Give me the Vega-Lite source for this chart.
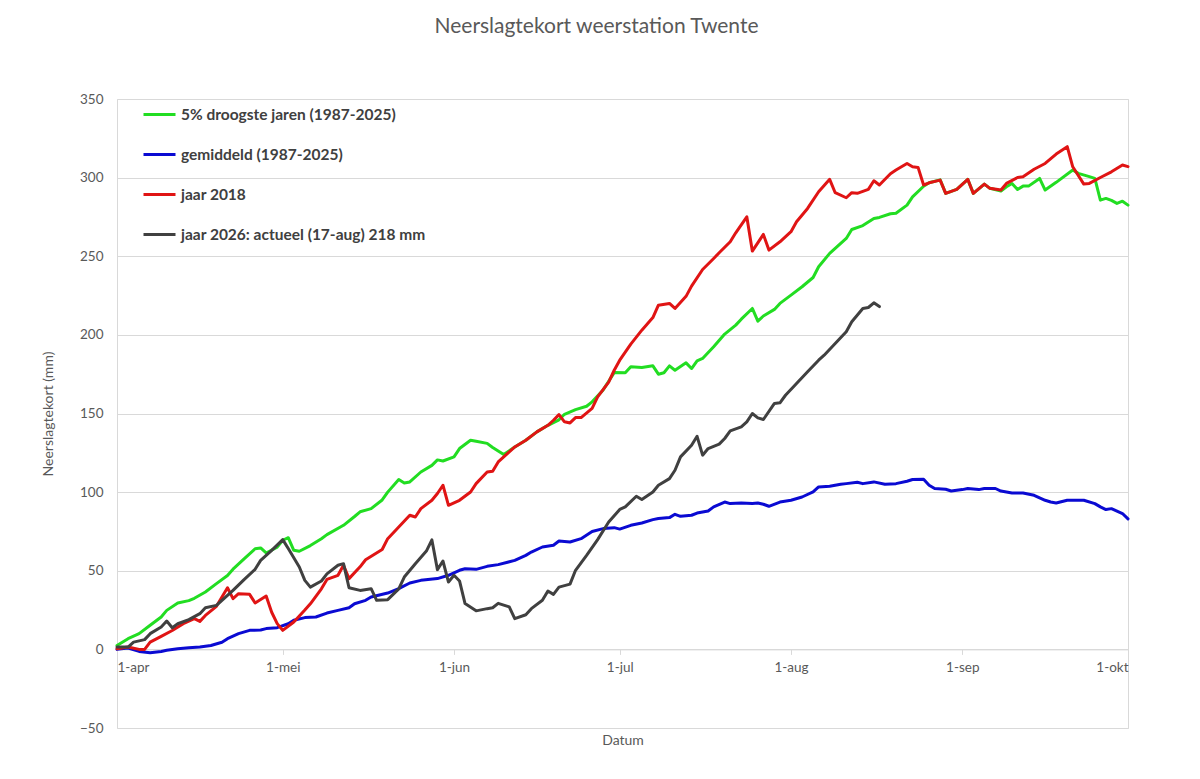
{
  "$schema": "https://vega.github.io/schema/vega-lite/v6.json",
  "autosize": {"type": "none"},
  "width": 1011,
  "height": 629,
  "padding": {"left": 117, "top": 99, "right": 72, "bottom": 51},
  "background": "white",
  "title": {
    "text": "Neerslagtekort weerstation Twente",
    "anchor": "middle",
    "dx": -26,
    "offset": 55,
    "font": "Lato",
    "fontSize": 21,
    "fontWeight": "normal",
    "color": "#595959"
  },
  "config": {
    "font": "Lato",
    "view": {"stroke": "#d9d9d9", "strokeWidth": 1},
    "line": {"strokeWidth": 3, "strokeJoin": "round", "strokeCap": "round"},
    "axis": {
      "labelColor": "#595959",
      "labelFontSize": 13.5,
      "titleColor": "#595959",
      "titleFontSize": 14,
      "titleFontWeight": "normal",
      "gridColor": "#d9d9d9",
      "domainColor": "#d9d9d9",
      "tickColor": "#d9d9d9"
    }
  },
  "datasets": {
    "groen": [
      {"datum": "2026-04-01", "mm": 2.5}, {"datum": "2026-04-03", "mm": 6.8}, {"datum": "2026-04-05", "mm": 10},
      {"datum": "2026-04-07", "mm": 15.3}, {"datum": "2026-04-09", "mm": 20.6}, {"datum": "2026-04-10", "mm": 24.8},
      {"datum": "2026-04-12", "mm": 29.5}, {"datum": "2026-04-14", "mm": 31}, {"datum": "2026-04-15", "mm": 32.5},
      {"datum": "2026-04-17", "mm": 36.5}, {"datum": "2026-04-19", "mm": 41.8}, {"datum": "2026-04-21", "mm": 47},
      {"datum": "2026-04-22", "mm": 51}, {"datum": "2026-04-24", "mm": 57.5}, {"datum": "2026-04-26", "mm": 64},
      {"datum": "2026-04-27", "mm": 64.5}, {"datum": "2026-04-28", "mm": 61.3}, {"datum": "2026-04-30", "mm": 65},
      {"datum": "2026-05-01", "mm": 69.4}, {"datum": "2026-05-02", "mm": 71}, {"datum": "2026-05-03", "mm": 63},
      {"datum": "2026-05-04", "mm": 62.4}, {"datum": "2026-05-06", "mm": 66}, {"datum": "2026-05-08", "mm": 70.4},
      {"datum": "2026-05-09", "mm": 73}, {"datum": "2026-05-12", "mm": 78.9}, {"datum": "2026-05-14", "mm": 84.5},
      {"datum": "2026-05-15", "mm": 87.5}, {"datum": "2026-05-17", "mm": 89.5}, {"datum": "2026-05-19", "mm": 95},
      {"datum": "2026-05-20", "mm": 100}, {"datum": "2026-05-22", "mm": 108}, {"datum": "2026-05-23", "mm": 105.8},
      {"datum": "2026-05-24", "mm": 106.5}, {"datum": "2026-05-26", "mm": 112.8}, {"datum": "2026-05-28", "mm": 117},
      {"datum": "2026-05-29", "mm": 120.5}, {"datum": "2026-05-30", "mm": 119.8}, {"datum": "2026-06-01", "mm": 122.4},
      {"datum": "2026-06-02", "mm": 127.7}, {"datum": "2026-06-04", "mm": 133}, {"datum": "2026-06-05", "mm": 132.4},
      {"datum": "2026-06-07", "mm": 131}, {"datum": "2026-06-08", "mm": 128.4}, {"datum": "2026-06-10", "mm": 123.9},
      {"datum": "2026-06-12", "mm": 128.7}, {"datum": "2026-06-14", "mm": 133}, {"datum": "2026-06-16", "mm": 138.3},
      {"datum": "2026-06-18", "mm": 142.5}, {"datum": "2026-06-20", "mm": 146}, {"datum": "2026-06-21", "mm": 149.5},
      {"datum": "2026-06-23", "mm": 152.5}, {"datum": "2026-06-25", "mm": 154.6}, {"datum": "2026-06-26", "mm": 157.4},
      {"datum": "2026-06-28", "mm": 165}, {"datum": "2026-06-29", "mm": 170.5}, {"datum": "2026-06-30", "mm": 176},
      {"datum": "2026-07-02", "mm": 175.9}, {"datum": "2026-07-03", "mm": 179.7}, {"datum": "2026-07-05", "mm": 179.3},
      {"datum": "2026-07-07", "mm": 180.3}, {"datum": "2026-07-08", "mm": 175}, {"datum": "2026-07-09", "mm": 175.9},
      {"datum": "2026-07-10", "mm": 180.3}, {"datum": "2026-07-11", "mm": 177.5}, {"datum": "2026-07-13", "mm": 182.2},
      {"datum": "2026-07-14", "mm": 178.6}, {"datum": "2026-07-15", "mm": 183.5}, {"datum": "2026-07-16", "mm": 185},
      {"datum": "2026-07-18", "mm": 192.4}, {"datum": "2026-07-20", "mm": 200.5}, {"datum": "2026-07-22", "mm": 206.2},
      {"datum": "2026-07-23", "mm": 210}, {"datum": "2026-07-25", "mm": 216.8}, {"datum": "2026-07-26", "mm": 208.7},
      {"datum": "2026-07-27", "mm": 212}, {"datum": "2026-07-29", "mm": 216.2}, {"datum": "2026-07-30", "mm": 220},
      {"datum": "2026-08-01", "mm": 225.3}, {"datum": "2026-08-03", "mm": 230.6}, {"datum": "2026-08-05", "mm": 236.5},
      {"datum": "2026-08-06", "mm": 243.3}, {"datum": "2026-08-08", "mm": 251.8}, {"datum": "2026-08-09", "mm": 255},
      {"datum": "2026-08-11", "mm": 261.3}, {"datum": "2026-08-12", "mm": 267}, {"datum": "2026-08-14", "mm": 269.5},
      {"datum": "2026-08-16", "mm": 274}, {"datum": "2026-08-17", "mm": 274.7}, {"datum": "2026-08-19", "mm": 277},
      {"datum": "2026-08-20", "mm": 277.3}, {"datum": "2026-08-22", "mm": 282.5}, {"datum": "2026-08-23", "mm": 287.8},
      {"datum": "2026-08-25", "mm": 294.5}, {"datum": "2026-08-26", "mm": 296.7}, {"datum": "2026-08-28", "mm": 298.6},
      {"datum": "2026-08-29", "mm": 290}, {"datum": "2026-08-31", "mm": 292.5}, {"datum": "2026-09-02", "mm": 298.9},
      {"datum": "2026-09-03", "mm": 290}, {"datum": "2026-09-05", "mm": 295.9}, {"datum": "2026-09-06", "mm": 293.2},
      {"datum": "2026-09-08", "mm": 291.5}, {"datum": "2026-09-09", "mm": 294.2}, {"datum": "2026-09-10", "mm": 296.3},
      {"datum": "2026-09-11", "mm": 292.5}, {"datum": "2026-09-12", "mm": 294.6}, {"datum": "2026-09-13", "mm": 294.6},
      {"datum": "2026-09-15", "mm": 299.5}, {"datum": "2026-09-16", "mm": 292.1}, {"datum": "2026-09-18", "mm": 297},
      {"datum": "2026-09-21", "mm": 304.8}, {"datum": "2026-09-22", "mm": 302.7}, {"datum": "2026-09-24", "mm": 300.6},
      {"datum": "2026-09-25", "mm": 299.5}, {"datum": "2026-09-26", "mm": 285.7}, {"datum": "2026-09-27", "mm": 286.8},
      {"datum": "2026-09-28", "mm": 285.5}, {"datum": "2026-09-29", "mm": 283.6}, {"datum": "2026-09-30", "mm": 285},
      {"datum": "2026-10-01", "mm": 282.5}
    ],
    "blauw": [
      {"datum": "2026-04-01", "mm": 0}, {"datum": "2026-04-03", "mm": 0.8}, {"datum": "2026-04-05", "mm": -1.3},
      {"datum": "2026-04-07", "mm": -2.1}, {"datum": "2026-04-09", "mm": -1.3}, {"datum": "2026-04-10", "mm": -0.6},
      {"datum": "2026-04-12", "mm": 0.4}, {"datum": "2026-04-14", "mm": 1.1}, {"datum": "2026-04-16", "mm": 1.5},
      {"datum": "2026-04-18", "mm": 2.5}, {"datum": "2026-04-20", "mm": 4.5}, {"datum": "2026-04-21", "mm": 6.8},
      {"datum": "2026-04-23", "mm": 10}, {"datum": "2026-04-25", "mm": 12.1}, {"datum": "2026-04-27", "mm": 12.3},
      {"datum": "2026-04-28", "mm": 13.2}, {"datum": "2026-04-30", "mm": 13.8}, {"datum": "2026-05-02", "mm": 16.3},
      {"datum": "2026-05-03", "mm": 18.5}, {"datum": "2026-05-05", "mm": 20.2}, {"datum": "2026-05-07", "mm": 20.6},
      {"datum": "2026-05-09", "mm": 23.1}, {"datum": "2026-05-11", "mm": 24.8}, {"datum": "2026-05-13", "mm": 26.5},
      {"datum": "2026-05-14", "mm": 29}, {"datum": "2026-05-16", "mm": 31.2}, {"datum": "2026-05-17", "mm": 33.3},
      {"datum": "2026-05-20", "mm": 35.8}, {"datum": "2026-05-22", "mm": 38.6}, {"datum": "2026-05-24", "mm": 42.2},
      {"datum": "2026-05-26", "mm": 43.9}, {"datum": "2026-05-29", "mm": 45}, {"datum": "2026-05-31", "mm": 47.1},
      {"datum": "2026-06-02", "mm": 50.3}, {"datum": "2026-06-03", "mm": 51.3}, {"datum": "2026-06-05", "mm": 50.9},
      {"datum": "2026-06-07", "mm": 52.8}, {"datum": "2026-06-09", "mm": 53.9}, {"datum": "2026-06-12", "mm": 56.6},
      {"datum": "2026-06-14", "mm": 59.8}, {"datum": "2026-06-15", "mm": 61.9}, {"datum": "2026-06-17", "mm": 65.1},
      {"datum": "2026-06-19", "mm": 66.2}, {"datum": "2026-06-20", "mm": 68.9}, {"datum": "2026-06-22", "mm": 68.3},
      {"datum": "2026-06-24", "mm": 70.4}, {"datum": "2026-06-26", "mm": 75}, {"datum": "2026-06-28", "mm": 76.8},
      {"datum": "2026-06-30", "mm": 77.4}, {"datum": "2026-07-01", "mm": 76.5}, {"datum": "2026-07-03", "mm": 78.9},
      {"datum": "2026-07-05", "mm": 80.4}, {"datum": "2026-07-07", "mm": 82.5}, {"datum": "2026-07-08", "mm": 83.2},
      {"datum": "2026-07-10", "mm": 83.8}, {"datum": "2026-07-11", "mm": 85.9}, {"datum": "2026-07-12", "mm": 84.6},
      {"datum": "2026-07-14", "mm": 85.3}, {"datum": "2026-07-15", "mm": 86.7}, {"datum": "2026-07-17", "mm": 88},
      {"datum": "2026-07-18", "mm": 90.6}, {"datum": "2026-07-20", "mm": 93.7}, {"datum": "2026-07-21", "mm": 92.7},
      {"datum": "2026-07-23", "mm": 93.1}, {"datum": "2026-07-25", "mm": 92.7}, {"datum": "2026-07-26", "mm": 93.1},
      {"datum": "2026-07-27", "mm": 92.3}, {"datum": "2026-07-28", "mm": 91}, {"datum": "2026-07-30", "mm": 93.7},
      {"datum": "2026-08-01", "mm": 94.8}, {"datum": "2026-08-03", "mm": 96.9}, {"datum": "2026-08-05", "mm": 100.1},
      {"datum": "2026-08-06", "mm": 103.3}, {"datum": "2026-08-08", "mm": 103.7}, {"datum": "2026-08-10", "mm": 105},
      {"datum": "2026-08-11", "mm": 105.4}, {"datum": "2026-08-13", "mm": 106.3}, {"datum": "2026-08-14", "mm": 105.4},
      {"datum": "2026-08-16", "mm": 106.5}, {"datum": "2026-08-18", "mm": 105}, {"datum": "2026-08-20", "mm": 105.4},
      {"datum": "2026-08-22", "mm": 106.9}, {"datum": "2026-08-23", "mm": 108}, {"datum": "2026-08-25", "mm": 108.2},
      {"datum": "2026-08-26", "mm": 104.4}, {"datum": "2026-08-27", "mm": 102.3}, {"datum": "2026-08-29", "mm": 101.8},
      {"datum": "2026-08-30", "mm": 100.7}, {"datum": "2026-09-01", "mm": 101.6}, {"datum": "2026-09-02", "mm": 102.3},
      {"datum": "2026-09-04", "mm": 101.6}, {"datum": "2026-09-05", "mm": 102.3}, {"datum": "2026-09-07", "mm": 102.3},
      {"datum": "2026-09-08", "mm": 100.7}, {"datum": "2026-09-10", "mm": 99.5}, {"datum": "2026-09-12", "mm": 99.5},
      {"datum": "2026-09-14", "mm": 98}, {"datum": "2026-09-16", "mm": 94.8}, {"datum": "2026-09-17", "mm": 93.7},
      {"datum": "2026-09-18", "mm": 93.1}, {"datum": "2026-09-20", "mm": 94.8}, {"datum": "2026-09-23", "mm": 94.8},
      {"datum": "2026-09-25", "mm": 92.7}, {"datum": "2026-09-26", "mm": 90.6}, {"datum": "2026-09-27", "mm": 88.9},
      {"datum": "2026-09-28", "mm": 89.5}, {"datum": "2026-09-30", "mm": 86.4}, {"datum": "2026-10-01", "mm": 83}
    ],
    "rood": [
      {"datum": "2026-04-01", "mm": 0.4}, {"datum": "2026-04-03", "mm": 1.5}, {"datum": "2026-04-05", "mm": 0},
      {"datum": "2026-04-06", "mm": 0}, {"datum": "2026-04-07", "mm": 4.6}, {"datum": "2026-04-09", "mm": 8.3},
      {"datum": "2026-04-11", "mm": 12}, {"datum": "2026-04-13", "mm": 16.3}, {"datum": "2026-04-15", "mm": 19.5},
      {"datum": "2026-04-16", "mm": 17.8}, {"datum": "2026-04-17", "mm": 21.6}, {"datum": "2026-04-19", "mm": 27.4},
      {"datum": "2026-04-20", "mm": 33.3}, {"datum": "2026-04-21", "mm": 39.2}, {"datum": "2026-04-22", "mm": 32.3},
      {"datum": "2026-04-23", "mm": 35.4}, {"datum": "2026-04-25", "mm": 35}, {"datum": "2026-04-26", "mm": 29.5},
      {"datum": "2026-04-28", "mm": 33.9}, {"datum": "2026-04-29", "mm": 23.6}, {"datum": "2026-04-30", "mm": 16.4},
      {"datum": "2026-05-01", "mm": 12.1}, {"datum": "2026-05-03", "mm": 17.4}, {"datum": "2026-05-05", "mm": 25},
      {"datum": "2026-05-06", "mm": 29}, {"datum": "2026-05-08", "mm": 38.5}, {"datum": "2026-05-09", "mm": 44.5},
      {"datum": "2026-05-11", "mm": 47.1}, {"datum": "2026-05-12", "mm": 53.5}, {"datum": "2026-05-13", "mm": 45},
      {"datum": "2026-05-15", "mm": 52.5}, {"datum": "2026-05-16", "mm": 57}, {"datum": "2026-05-19", "mm": 63.5},
      {"datum": "2026-05-20", "mm": 70.4}, {"datum": "2026-05-22", "mm": 77.8}, {"datum": "2026-05-24", "mm": 85.3},
      {"datum": "2026-05-25", "mm": 84.2}, {"datum": "2026-05-26", "mm": 89.5}, {"datum": "2026-05-28", "mm": 94.8},
      {"datum": "2026-05-29", "mm": 99.1}, {"datum": "2026-05-30", "mm": 104.4}, {"datum": "2026-05-31", "mm": 91.6},
      {"datum": "2026-06-02", "mm": 94.8}, {"datum": "2026-06-04", "mm": 100.1}, {"datum": "2026-06-05", "mm": 105.4},
      {"datum": "2026-06-07", "mm": 112.8}, {"datum": "2026-06-08", "mm": 113.3}, {"datum": "2026-06-09", "mm": 119.2},
      {"datum": "2026-06-11", "mm": 125.6}, {"datum": "2026-06-12", "mm": 128.7}, {"datum": "2026-06-14", "mm": 133},
      {"datum": "2026-06-16", "mm": 138.3}, {"datum": "2026-06-18", "mm": 142.5}, {"datum": "2026-06-19", "mm": 145.7},
      {"datum": "2026-06-20", "mm": 149.3}, {"datum": "2026-06-21", "mm": 144.7}, {"datum": "2026-06-22", "mm": 144},
      {"datum": "2026-06-23", "mm": 147.4}, {"datum": "2026-06-24", "mm": 147.4}, {"datum": "2026-06-26", "mm": 153.2},
      {"datum": "2026-06-27", "mm": 160.6}, {"datum": "2026-06-29", "mm": 170}, {"datum": "2026-06-30", "mm": 177.5},
      {"datum": "2026-07-01", "mm": 183.9}, {"datum": "2026-07-03", "mm": 194.1}, {"datum": "2026-07-05", "mm": 203},
      {"datum": "2026-07-07", "mm": 211}, {"datum": "2026-07-08", "mm": 218.9}, {"datum": "2026-07-10", "mm": 220},
      {"datum": "2026-07-11", "mm": 216.8}, {"datum": "2026-07-13", "mm": 224.5}, {"datum": "2026-07-14", "mm": 231},
      {"datum": "2026-07-16", "mm": 241.6}, {"datum": "2026-07-18", "mm": 248.6}, {"datum": "2026-07-19", "mm": 252.2},
      {"datum": "2026-07-21", "mm": 259.2}, {"datum": "2026-07-22", "mm": 264.9}, {"datum": "2026-07-24", "mm": 275.1},
      {"datum": "2026-07-25", "mm": 253.3}, {"datum": "2026-07-27", "mm": 263.9}, {"datum": "2026-07-28", "mm": 253.9},
      {"datum": "2026-07-30", "mm": 259.2}, {"datum": "2026-08-01", "mm": 265.6}, {"datum": "2026-08-02", "mm": 271.9},
      {"datum": "2026-08-04", "mm": 280.4}, {"datum": "2026-08-06", "mm": 291}, {"datum": "2026-08-08", "mm": 298.9},
      {"datum": "2026-08-09", "mm": 290.4}, {"datum": "2026-08-11", "mm": 287.2}, {"datum": "2026-08-12", "mm": 290.4},
      {"datum": "2026-08-13", "mm": 290}, {"datum": "2026-08-15", "mm": 292.5}, {"datum": "2026-08-16", "mm": 298},
      {"datum": "2026-08-17", "mm": 295.3}, {"datum": "2026-08-19", "mm": 302.5}, {"datum": "2026-08-20", "mm": 304.8},
      {"datum": "2026-08-22", "mm": 309}, {"datum": "2026-08-23", "mm": 306.9}, {"datum": "2026-08-24", "mm": 306.5},
      {"datum": "2026-08-25", "mm": 295.3}, {"datum": "2026-08-26", "mm": 296.7}, {"datum": "2026-08-28", "mm": 298.4},
      {"datum": "2026-08-29", "mm": 290}, {"datum": "2026-08-31", "mm": 292.5}, {"datum": "2026-09-02", "mm": 298.9},
      {"datum": "2026-09-03", "mm": 290}, {"datum": "2026-09-05", "mm": 295.9}, {"datum": "2026-09-06", "mm": 293.2},
      {"datum": "2026-09-08", "mm": 292.1}, {"datum": "2026-09-09", "mm": 296.3}, {"datum": "2026-09-11", "mm": 300.1},
      {"datum": "2026-09-12", "mm": 300.6}, {"datum": "2026-09-14", "mm": 305.3}, {"datum": "2026-09-16", "mm": 309},
      {"datum": "2026-09-18", "mm": 315}, {"datum": "2026-09-20", "mm": 319.7}, {"datum": "2026-09-21", "mm": 306.9},
      {"datum": "2026-09-23", "mm": 295.9}, {"datum": "2026-09-24", "mm": 296.3}, {"datum": "2026-09-26", "mm": 300.1},
      {"datum": "2026-09-28", "mm": 303.7}, {"datum": "2026-09-30", "mm": 308}, {"datum": "2026-10-01", "mm": 307}
    ],
    "zwart": [
      {"datum": "2026-04-01", "mm": 1.5}, {"datum": "2026-04-03", "mm": 1.5}, {"datum": "2026-04-04", "mm": 4.6},
      {"datum": "2026-04-06", "mm": 6.2}, {"datum": "2026-04-07", "mm": 10}, {"datum": "2026-04-09", "mm": 14.2},
      {"datum": "2026-04-10", "mm": 18}, {"datum": "2026-04-11", "mm": 13.8}, {"datum": "2026-04-12", "mm": 16.3},
      {"datum": "2026-04-14", "mm": 18.9}, {"datum": "2026-04-16", "mm": 22.7}, {"datum": "2026-04-17", "mm": 26.5},
      {"datum": "2026-04-19", "mm": 28}, {"datum": "2026-04-20", "mm": 31.2}, {"datum": "2026-04-22", "mm": 37.5},
      {"datum": "2026-04-24", "mm": 44.4}, {"datum": "2026-04-26", "mm": 50.9}, {"datum": "2026-04-27", "mm": 56.6},
      {"datum": "2026-04-29", "mm": 63}, {"datum": "2026-05-01", "mm": 69.8}, {"datum": "2026-05-02", "mm": 64.1},
      {"datum": "2026-05-04", "mm": 52.4}, {"datum": "2026-05-05", "mm": 43.9}, {"datum": "2026-05-06", "mm": 39.6},
      {"datum": "2026-05-08", "mm": 43.5}, {"datum": "2026-05-09", "mm": 48}, {"datum": "2026-05-11", "mm": 53.5},
      {"datum": "2026-05-12", "mm": 54.5}, {"datum": "2026-05-13", "mm": 39.2}, {"datum": "2026-05-15", "mm": 37.5},
      {"datum": "2026-05-17", "mm": 38.6}, {"datum": "2026-05-18", "mm": 31.2}, {"datum": "2026-05-20", "mm": 31.6},
      {"datum": "2026-05-22", "mm": 38.5}, {"datum": "2026-05-23", "mm": 46}, {"datum": "2026-05-25", "mm": 54.5},
      {"datum": "2026-05-27", "mm": 62.5}, {"datum": "2026-05-28", "mm": 69.6}, {"datum": "2026-05-29", "mm": 50.7},
      {"datum": "2026-05-30", "mm": 56.2}, {"datum": "2026-05-31", "mm": 42.8}, {"datum": "2026-06-01", "mm": 47.1},
      {"datum": "2026-06-02", "mm": 43.5}, {"datum": "2026-06-03", "mm": 29.1}, {"datum": "2026-06-05", "mm": 24.5},
      {"datum": "2026-06-07", "mm": 25.9}, {"datum": "2026-06-08", "mm": 26.5}, {"datum": "2026-06-09", "mm": 29.3},
      {"datum": "2026-06-11", "mm": 27}, {"datum": "2026-06-12", "mm": 19.5}, {"datum": "2026-06-14", "mm": 22},
      {"datum": "2026-06-15", "mm": 25.9}, {"datum": "2026-06-17", "mm": 31.2}, {"datum": "2026-06-18", "mm": 37.1},
      {"datum": "2026-06-19", "mm": 35}, {"datum": "2026-06-20", "mm": 39.6}, {"datum": "2026-06-22", "mm": 41.5},
      {"datum": "2026-06-23", "mm": 50.3}, {"datum": "2026-06-25", "mm": 59.8}, {"datum": "2026-06-27", "mm": 69.8},
      {"datum": "2026-06-29", "mm": 81}, {"datum": "2026-07-01", "mm": 89}, {"datum": "2026-07-02", "mm": 90.6},
      {"datum": "2026-07-04", "mm": 97.4}, {"datum": "2026-07-05", "mm": 95.3}, {"datum": "2026-07-07", "mm": 100.1},
      {"datum": "2026-07-08", "mm": 104.4}, {"datum": "2026-07-10", "mm": 108.6}, {"datum": "2026-07-11", "mm": 113.9},
      {"datum": "2026-07-12", "mm": 122.4}, {"datum": "2026-07-14", "mm": 129.8}, {"datum": "2026-07-15", "mm": 135.5},
      {"datum": "2026-07-16", "mm": 123.5}, {"datum": "2026-07-17", "mm": 127.7}, {"datum": "2026-07-19", "mm": 130.5},
      {"datum": "2026-07-20", "mm": 134.1}, {"datum": "2026-07-21", "mm": 138.9}, {"datum": "2026-07-23", "mm": 141.5},
      {"datum": "2026-07-24", "mm": 144.7}, {"datum": "2026-07-25", "mm": 150}, {"datum": "2026-07-26", "mm": 147.2},
      {"datum": "2026-07-27", "mm": 146.2}, {"datum": "2026-07-29", "mm": 156.4}, {"datum": "2026-07-30", "mm": 156.8},
      {"datum": "2026-07-31", "mm": 161.6}, {"datum": "2026-08-02", "mm": 169.1}, {"datum": "2026-08-04", "mm": 176.5},
      {"datum": "2026-08-06", "mm": 183.9}, {"datum": "2026-08-07", "mm": 187.1}, {"datum": "2026-08-09", "mm": 194.5},
      {"datum": "2026-08-11", "mm": 202}, {"datum": "2026-08-12", "mm": 208.3}, {"datum": "2026-08-14", "mm": 216.8},
      {"datum": "2026-08-15", "mm": 217.4}, {"datum": "2026-08-16", "mm": 220.4}, {"datum": "2026-08-17", "mm": 218}
    ]
  },
  "encoding": {
    "x": {
      "field": "datum",
      "type": "temporal",
      "scale": {
        "type": "utc",
        "domain": [
          {"year": 2026, "month": 4, "date": 1, "utc": true},
          {"year": 2026, "month": 10, "date": 1, "utc": true}
        ]
      },
      "axis": {
        "title": "Datum",
        "offset": -78.6,
        "grid": false,
        "tickSize": 5,
        "labelPadding": 6,
        "titleY": 84,
        "values": [
          {"year": 2026, "month": 4, "date": 1, "utc": true},
          {"year": 2026, "month": 5, "date": 1, "utc": true},
          {"year": 2026, "month": 6, "date": 1, "utc": true},
          {"year": 2026, "month": 7, "date": 1, "utc": true},
          {"year": 2026, "month": 8, "date": 1, "utc": true},
          {"year": 2026, "month": 9, "date": 1, "utc": true},
          {"year": 2026, "month": 10, "date": 1, "utc": true}
        ],
        "labelExpr": "utcdate(datum.value) + '-' + ['jan','feb','mrt','apr','mei','jun','jul','aug','sep','okt','nov','dec'][utcmonth(datum.value)]"
      }
    },
    "y": {
      "field": "mm",
      "type": "quantitative",
      "scale": {"domain": [-50, 350], "nice": false, "zero": false},
      "axis": {
        "title": "Neerslagtekort (mm)",
        "values": [-50, 0, 50, 100, 150, 200, 250, 300, 350],
        "domain": false,
        "ticks": false,
        "labelPadding": 14,
        "titlePadding": 24
      }
    },
    "color": {
      "type": "nominal",
      "scale": {
        "domain": [
          "5% droogste jaren (1987-2025)",
          "gemiddeld (1987-2025)",
          "jaar 2018",
          "jaar 2026: actueel (17-aug) 218 mm"
        ],
        "range": ["#22dd22", "#0a0ad2", "#e01414", "#404040"]
      },
      "legend": {
        "title": null,
        "orient": "none",
        "legendX": 25,
        "legendY": -2,
        "symbolType": "stroke",
        "symbolSize": 1024,
        "symbolStrokeWidth": 3,
        "labelFontSize": 15.5,
        "labelFontWeight": "bold",
        "labelColor": "#404040",
        "labelOffset": 4,
        "rowPadding": 14,
        "labelLimit": 400
      }
    }
  },
  "layer": [
    {"data": {"name": "groen"}, "mark": "line", "encoding": {"color": {"datum": "5% droogste jaren (1987-2025)"}}},
    {"data": {"name": "blauw"}, "mark": "line", "encoding": {"color": {"datum": "gemiddeld (1987-2025)"}}},
    {"data": {"name": "rood"}, "mark": "line", "encoding": {"color": {"datum": "jaar 2018"}}},
    {"data": {"name": "zwart"}, "mark": "line", "encoding": {"color": {"datum": "jaar 2026: actueel (17-aug) 218 mm"}}}
  ]
}
